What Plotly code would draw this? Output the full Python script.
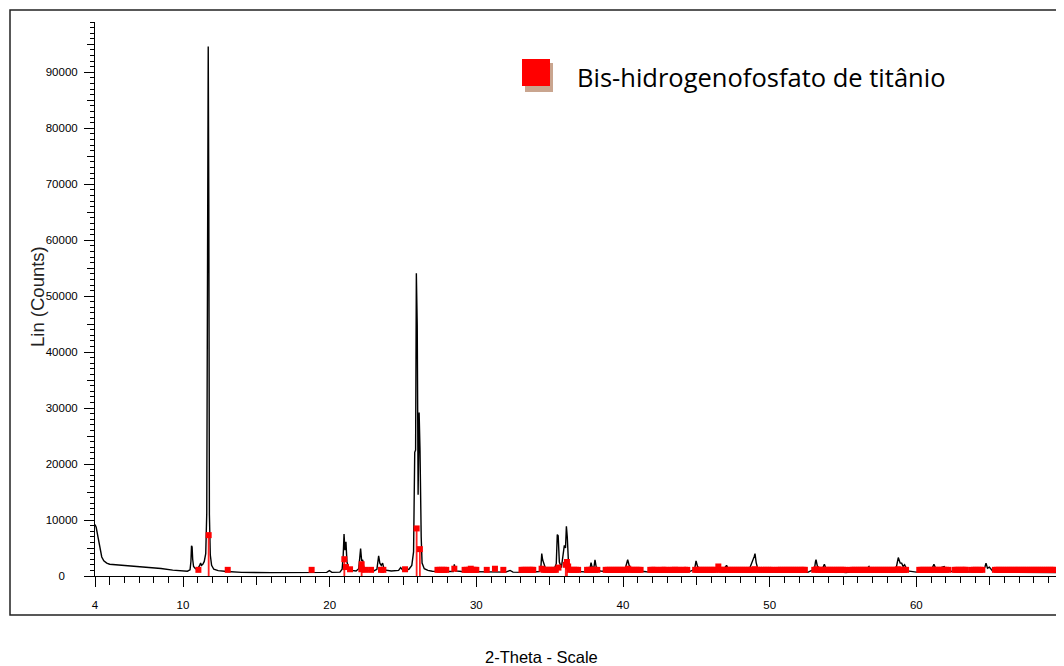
import plotly.graph_objects as go

# ---------------- data ----------------
two_theta = [4.00, 4.08, 4.18, 4.28, 4.36, 4.46, 4.60, 4.80, 5.00, 5.50, 6.00, 6.60, 7.50, 8.50, 9.30,
             10.00, 10.30, 10.48, 10.54, 10.58, 10.62, 10.66, 10.72, 10.85, 11.00, 11.12, 11.20, 11.26,
             11.35, 11.45, 11.55, 11.62, 11.66, 11.72, 11.76, 11.80, 11.86, 11.95, 12.10, 12.40, 13.00,
             14.00, 16.00, 18.50, 19.80, 19.98, 20.15, 20.70, 20.85, 20.92, 20.98, 21.04, 21.11, 21.18,
             21.30, 21.50, 21.80, 21.98, 22.05, 22.11, 22.18, 22.25, 22.33, 22.55, 23.00, 23.22, 23.30,
             23.34, 23.42, 23.52, 23.61, 23.72, 24.20, 24.70, 24.84, 25.00, 25.40, 25.60, 25.72, 25.80,
             25.86, 25.91, 25.97, 26.03, 26.10, 26.16, 26.24, 26.30, 26.45, 26.70, 27.00, 28.00, 28.42,
             28.50, 28.58, 29.00, 30.00, 31.00, 32.00, 32.30, 32.50, 33.50, 34.30, 34.40, 34.46, 34.52,
             34.58, 34.70, 34.90, 35.30, 35.45, 35.52, 35.58, 35.66, 35.80, 35.92, 36.00, 36.08, 36.14,
             36.20, 36.28, 36.45, 37.00, 37.60, 37.75, 37.82, 37.90, 38.02, 38.09, 38.18, 38.45, 39.00,
             39.80, 40.15, 40.25, 40.32, 40.42, 40.60, 41.00, 41.60, 42.50, 43.50, 44.50, 44.88, 44.98,
             45.08, 45.30, 46.00, 46.35, 46.45, 46.58, 46.90, 47.06, 47.20, 48.00, 48.60, 48.78, 48.84,
             48.95, 49.00, 49.08, 49.20, 49.60, 50.50, 51.50, 52.60, 52.80, 53.05, 53.12, 53.16, 53.25,
             53.40, 53.60, 53.73, 53.85, 54.50, 55.20, 55.60, 56.50, 56.77, 56.90, 58.00, 58.60, 58.72,
             58.77, 58.90, 59.00, 59.10, 59.20, 59.40, 60.00, 61.00, 61.20, 61.35, 61.90, 62.10, 63.00,
             64.50, 64.68, 64.75, 64.85, 64.98, 65.20, 66.00, 68.00, 69.50, 70.00]
counts = [9200, 8700, 7300, 5800, 4700, 3400, 2700, 2300, 2100, 2000, 1950, 1850, 1650, 1350, 1050,
          900, 850, 1100, 2600, 5400, 5200, 3000, 1700, 1300, 1350, 1800, 2300, 1900,
          2100, 2600, 4000, 11200, 62400, 94600, 66200, 11000, 3800, 1900, 1200, 950, 800,
          650, 600, 600, 650, 950, 650, 700, 1200, 3500, 7500, 4600, 6100, 2500,
          1400, 1000, 900, 1300, 3200, 4900, 2700, 2900, 1500, 1000, 900, 1200, 2800,
          3600, 2300, 1900, 2300, 1100, 900, 1000, 1500, 1000, 1200, 1900, 4300, 22100,
          22500, 54100, 44800, 14500, 29200, 22500, 7000, 2300, 1300, 1000, 850, 750, 800,
          2100, 900, 800, 800, 750, 700, 1000, 700, 650, 800, 1500, 4000, 2900,
          2400, 1500, 1200, 1200, 2200, 7400, 7200, 2500, 1500, 3500, 5500, 5000, 8900,
          7000, 2500, 1100, 800, 700, 1300, 2400, 1500, 1600, 2900, 1500, 900, 750,
          800, 1300, 2200, 2900, 1900, 1200, 900, 750, 700, 700, 750, 1200, 2700,
          1700, 1100, 900, 1400, 2100, 1500, 1300, 1900, 1100, 900, 1100, 2200, 2900,
          3500, 4000, 2400, 1200, 800, 700, 700, 650, 900, 1200, 2500, 2900, 1800,
          1300, 1300, 2100, 1200, 800, 600, 750, 900, 1700, 900, 800, 1100, 2400,
          3300, 2300, 2300, 1700, 2000, 900, 700, 900, 2100, 1200, 1700, 900, 700,
          800, 1600, 2300, 1400, 1600, 900, 700, 650, 600, 600]

ref_pos = [11.05, 11.75, 13.05, 18.77, 21.00, 21.11, 21.39, 22.18, 22.16, 22.41, 22.82, 23.50, 23.66,
           25.14, 25.93, 26.15,
           27.35, 27.50, 27.65, 27.80, 27.95, 28.50,
           29.20, 29.35, 29.50, 29.62, 29.75, 29.88, 30.00, 30.71, 31.27, 31.84,
           33.08, 33.22, 33.36, 33.50, 33.64, 33.78, 33.88,
           34.45, 34.58, 34.72, 34.86, 35.00, 35.14, 35.28, 35.42, 35.60, 36.10, 36.18, 36.26,
           36.38, 36.52, 36.66, 36.80, 36.94,
           37.55, 37.68, 37.82, 37.96, 38.10, 38.25,
           38.82, 38.96, 39.10, 39.24, 39.38, 39.52, 39.66, 39.80, 39.94, 40.08, 40.22, 40.36, 40.50,
           40.64, 40.78, 40.92, 41.06, 41.20,
           41.86, 42.00, 42.14, 42.28, 42.56, 42.70, 42.84, 42.98, 43.26, 43.40, 43.54, 43.68, 43.82,
           44.10, 44.24, 44.38,
           44.92, 45.06, 45.20, 45.34, 45.48, 45.62, 45.76, 45.90, 46.04, 46.18, 46.30, 46.50,
           46.62, 46.76, 46.90, 47.04, 47.18, 47.32, 47.46, 47.60, 47.74, 47.88, 48.02, 48.16, 48.30,
           48.44, 48.58, 48.72, 48.86, 49.00, 49.14, 49.28,
           49.45, 49.60, 49.75, 49.90, 50.05, 50.20,
           50.48, 50.62, 50.76, 50.90, 51.04, 51.18, 51.32, 51.46, 51.60, 51.74, 51.88, 52.02, 52.16,
           52.30, 52.40,
           53.04, 53.18, 53.32, 53.46, 53.60, 53.74, 53.88, 54.02, 54.16, 54.30, 54.44, 54.58, 54.72,
           54.86, 55.00, 55.14,
           55.52, 55.66, 55.80, 55.94, 56.08, 56.22, 56.36, 56.50, 56.64, 56.78, 56.92, 57.06, 57.20,
           57.34, 57.48, 57.62, 57.76, 57.90, 58.04, 58.18, 58.32, 58.46, 58.60, 58.74, 58.88, 59.02,
           59.16, 59.30,
           60.20, 60.34, 60.48, 60.62, 60.76, 60.90, 61.04, 61.18, 61.32, 61.46, 61.60, 61.74, 61.88,
           62.02, 62.16,
           62.60, 62.74, 62.88, 63.02, 63.16, 63.30, 63.38,
           63.78, 63.92, 64.06, 64.20, 64.34, 64.50,
           65.36, 65.50, 65.64, 65.78, 65.92, 66.06, 66.20, 66.34, 66.48, 66.62, 66.76, 66.90, 67.04,
           67.18, 67.32, 67.46, 67.60, 67.74, 67.88, 68.02, 68.16, 68.30, 68.44, 68.58, 68.72, 68.86,
           69.00, 69.14, 69.28, 69.42]
ref_int = [1100, 7300, 1100, 1100, 3000, 1600, 1200, 2100, 1200, 1100, 1100, 1100, 1100,
           1200, 8500, 4800,
           1100, 1100, 1100, 1100, 1100, 1300,
           1100, 1100, 1100, 1300, 1100, 1100, 1100, 1100, 1300, 1100,
           1100, 1100, 1100, 1100, 1100, 1100, 1100,
           1300, 1100, 1100, 1100, 1100, 1100, 1100, 1100, 1500, 2000, 2500, 1700,
           1100, 1100, 1100, 1100, 1100,
           1100, 1100, 1100, 1100, 1100, 1100,
           1100, 1100, 1100, 1100, 1100, 1100, 1100, 1100, 1100, 1100, 1100, 1300, 1100,
           1100, 1100, 1100, 1100, 1100,
           1100, 1100, 1100, 1100, 1100, 1100, 1100, 1100, 1100, 1100, 1100, 1100, 1100,
           1100, 1100, 1100,
           1100, 1100, 1100, 1100, 1100, 1100, 1100, 1100, 1100, 1100, 1100, 1700,
           1100, 1100, 1100, 1100, 1100, 1100, 1100, 1100, 1100, 1100, 1100, 1100, 1100,
           1100, 1100, 1100, 1100, 1200, 1100, 1100,
           1100, 1100, 1100, 1100, 1100, 1100,
           1100, 1100, 1100, 1100, 1100, 1100, 1100, 1100, 1100, 1100, 1100, 1100, 1100,
           1100, 1100,
           1100, 1200, 1100, 1100, 1100, 1100, 1100, 1100, 1100, 1100, 1100, 1100, 1100,
           1100, 1100, 1100,
           1100, 1100, 1100, 1100, 1100, 1100, 1100, 1100, 1100, 1100, 1100, 1100, 1100,
           1100, 1100, 1100, 1100, 1100, 1100, 1100, 1100, 1100, 1100, 1200, 1100, 1100,
           1100, 1100,
           1100, 1100, 1100, 1100, 1100, 1100, 1100, 1100, 1100, 1100, 1100, 1100, 1100,
           1100, 1100,
           1100, 1100, 1100, 1100, 1100, 1100, 1100,
           1100, 1100, 1100, 1100, 1100, 1100,
           1100, 1100, 1100, 1100, 1100, 1100, 1100, 1100, 1100, 1100, 1100, 1100, 1100,
           1100, 1100, 1100, 1100, 1100, 1100, 1100, 1100, 1100, 1100, 1100, 1100, 1100,
           1100, 1100, 1100, 1100]

x_tick_vals = [4, 10, 20, 30, 40, 50, 60]
x_tick_text = ["4", "10", "20", "30", "40", "50", "60"]
y_tick_vals = [0, 10000, 20000, 30000, 40000, 50000, 60000, 70000, 80000, 90000]
y_tick_text = ["0<span style='color:rgba(0,0,0,0)'>00</span>", "10000", "20000", "30000", "40000",
               "50000", "60000", "70000", "80000", "90000"]
y_mid_ticks = [5000, 15000, 25000, 35000, 45000, 55000, 65000, 75000, 85000, 95000]
x_mid_ticks = [5, 15, 25, 35, 45, 55, 65]

legend_label = "Bis-hidrogenofosfato de titânio"
x_title = "2-Theta - Scale"
y_title = "Lin (Counts)"

# ---------------- figure ----------------
# the page body adds an 8 px margin, so the figure is laid out 8 px up/left
OFF = 8
W, H = 1064 - OFF, 666 - OFF
L, T = 95 - OFF, 22 - OFF
R = W - (1063 - OFF)
B = H - (576 - OFF)
pw, ph = W - L - R, H - T - B


def px(xp):
    return (xp - OFF - L) / pw


def py(yp):
    return (H - B - (yp - OFF)) / ph


drop = [v if v >= 2000 else 0 for v in ref_int]

fig = go.Figure()
fig.add_trace(go.Scatter(x=two_theta, y=counts, mode="lines",
                         line=dict(color="black", width=1.4), showlegend=False,
                         hoverinfo="skip"))
fig.add_trace(go.Scatter(x=ref_pos, y=ref_int, mode="markers",
                         marker=dict(symbol="square", size=6, color="#ff0000", line=dict(width=0)),
                         error_y=dict(type="data", symmetric=False, array=[0] * len(drop),
                                      arrayminus=drop, color="#ff2020", thickness=1.8, width=0),
                         showlegend=False, hoverinfo="skip"))
fig.add_trace(go.Scatter(x=[4], y=[0], xaxis="x2", yaxis="y2", mode="markers",
                         marker=dict(opacity=0), showlegend=False, hoverinfo="skip"))

tickfont = dict(family="Liberation Sans, Arial, sans-serif", size=11.5, color="black")

fig.update_layout(
    width=W, height=H,
    margin=dict(l=L, r=R, t=T, b=B),
    paper_bgcolor="white", plot_bgcolor="white",
    xaxis=dict(range=[4, 70], showline=True, linecolor="black", linewidth=1,
               showgrid=False, zeroline=False,
               tickmode="array", tickvals=x_tick_vals, ticktext=x_tick_text,
               ticks="outside", ticklen=10, tickwidth=1, tickcolor="black",
               ticklabelstandoff=8, tickfont=tickfont,
               minor=dict(tickmode="linear", tick0=4, dtick=1, ticks="outside",
                          ticklen=6, tickwidth=1, tickcolor="black", showgrid=False)),
    yaxis=dict(range=[0, 99000], showline=True, linecolor="black", linewidth=1,
               showgrid=False, zeroline=False,
               tickmode="array", tickvals=y_tick_vals, ticktext=y_tick_text,
               ticks="outside", ticklen=10, tickwidth=1, tickcolor="black",
               ticklabelstandoff=4, tickfont=tickfont,
               minor=dict(tickmode="linear", tick0=0, dtick=1000, ticks="outside",
                          ticklen=4, tickwidth=1, tickcolor="black", showgrid=False)),
    xaxis2=dict(range=[4, 70], overlaying="x", anchor="y", side="bottom",
                tickmode="array", tickvals=x_mid_ticks, ticks="outside", ticklen=8,
                tickwidth=1, tickcolor="black", showticklabels=False, showgrid=False,
                zeroline=False, showline=False),
    yaxis2=dict(range=[0, 99000], overlaying="y", anchor="x", side="left",
                tickmode="array", tickvals=y_mid_ticks, ticks="outside", ticklen=7,
                tickwidth=1, tickcolor="black", showticklabels=False, showgrid=False,
                zeroline=False, showline=False),
    shapes=[
        dict(type="rect", xref="paper", yref="paper",
             x0=px(10), x1=px(1070), y0=py(615), y1=py(10),
             line=dict(color="#222222", width=1.5), fillcolor="rgba(0,0,0,0)", layer="below"),
        dict(type="rect", xref="paper", yref="paper",
             x0=px(525), x1=px(553), y0=py(92), y1=py(63),
             line=dict(width=0), fillcolor="#c9a58f", layer="above"),
        dict(type="rect", xref="paper", yref="paper",
             x0=px(522), x1=px(550), y0=py(86), y1=py(59),
             line=dict(width=0), fillcolor="#ff0000", layer="above"),
    ],
    annotations=[
        dict(text=legend_label, xref="paper", yref="paper", x=px(575), y=py(77),
             xanchor="left", yanchor="middle", showarrow=False,
             font=dict(family="Open Sans, Lato, sans-serif", size=25.5, color="black")),
        dict(text=x_title, xref="paper", yref="paper", x=px(541), y=py(657),
             xanchor="center", yanchor="middle", showarrow=False,
             font=dict(family="Liberation Sans, Arial, sans-serif", size=16.5, color="black")),
        dict(text=y_title, xref="paper", yref="paper", x=px(37), y=py(297),
             xanchor="center", yanchor="middle", showarrow=False, textangle=-90,
             font=dict(family="Liberation Sans, Arial, sans-serif", size=18.5, color="#222222")),
    ],
)

fig.write_html("out.html")
